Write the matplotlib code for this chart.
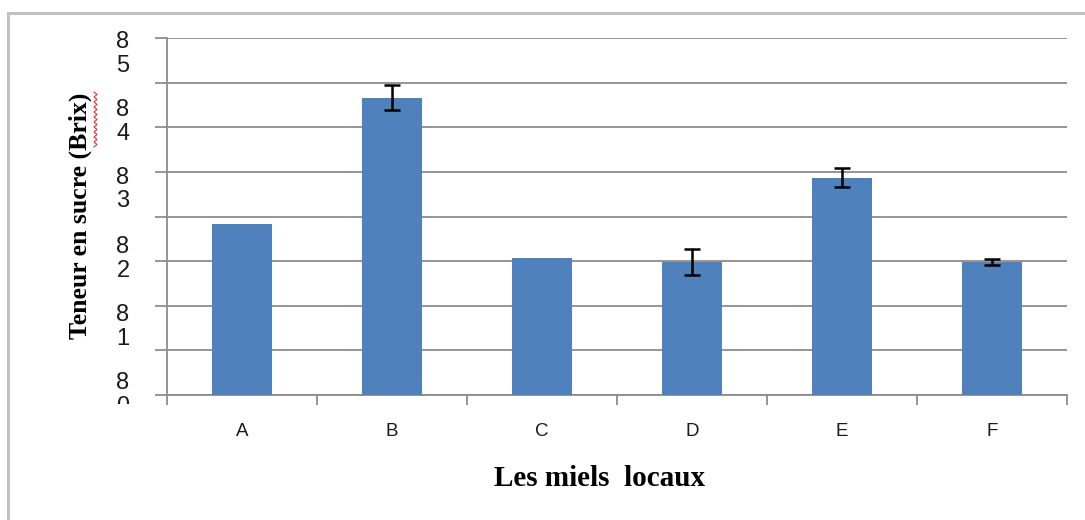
import numpy as np
import matplotlib
matplotlib.use("Agg")
import matplotlib.pyplot as plt
from matplotlib.patches import Rectangle
from matplotlib.lines import Line2D
from matplotlib.transforms import Bbox, TransformedBbox

# data
categories = ["A", "B", "C", "D", "E", "F"]
sugar = [3.83, 6.66, 3.07, 2.98, 4.87, 2.98]
sugar_err = [0.0, 0.28, 0.0, 0.29, 0.22, 0.06]

# y axis: gridlines and the (misplaced, wrapped) tick labels of the original
grid_levels = [0, 1, 2, 3, 4, 5, 6, 7, 8]
label_levels = [0.07, 1.6, 3.13, 4.68, 6.2, 7.72]
label_texts = ["8\n0", "8\n1", "8\n2", "8\n3", "8\n4", "8\n5"]

W, H = 1085, 520
fig = plt.figure(figsize=(W / 100, H / 100), dpi=100)
ax = fig.add_axes([167 / W, 1 - 395 / H, 900 / W, 357 / H])

x = np.arange(len(categories))
ax.bar(x, sugar, width=0.4, color="#4F81BD", zorder=3)
has_err = [e > 0 for e in sugar_err]
ax.errorbar(x[has_err], np.array(sugar)[has_err], yerr=np.array(sugar_err)[has_err],
            fmt="none", ecolor="black", elinewidth=1.8, capsize=6, capthick=1.8, zorder=4)

ax.set_xlim(-0.5, len(categories) - 0.5)
ax.set_ylim(0, 8)

# gridlines
ax.set_yticks(grid_levels)
ax.set_yticklabels([])
ax.grid(axis="y", color="#8c8c8c", linewidth=1.3, zorder=0)
ax.tick_params(axis="y", which="major", length=9, color="#8c8c8c", width=1.3)

ax.set_yticks(label_levels, minor=True)
ax.set_yticklabels(label_texts, minor=True, fontsize=17, family="Liberation Sans",
                   color="#1a1a1a", linespacing=1.1)
ax.tick_params(axis="y", which="minor", length=0, pad=27)

# x ticks at category boundaries, labels in the middle
ax.set_xticks(np.arange(-0.5, len(categories), 1.0))
ax.set_xticklabels([])
ax.tick_params(axis="x", which="major", length=7, color="#8c8c8c", width=1.3)
ax.set_xticks(x, minor=True)
ax.set_xticklabels(categories, minor=True, fontsize=13.5, family="Liberation Sans",
                   color="#1a1a1a")
ax.tick_params(axis="x", which="minor", length=0, pad=20)

for s in ["top", "right"]:
    ax.spines[s].set_visible(False)
for s in ["left", "bottom"]:
    ax.spines[s].set_color("#8c8c8c")
    ax.spines[s].set_linewidth(1.3)

# clip the bottom wrapped label as in the original
clip = TransformedBbox(Bbox([[0, 1 - 404 / H], [1, 1]]), fig.transFigure)
for t in ax.get_yticklabels(minor=True):
    t.set_clip_on(True)
    t.set_clip_box(clip)

fig.text(600 / W, 1 - 478 / H, "Les miels  locaux", ha="center", va="center",
         fontsize=21, fontweight="bold", family="Liberation Serif")
fig.text(80 / W, 1 - 216 / H, "Teneur en sucre (Brix)", ha="center", va="center",
         rotation=90, fontsize=18.5, fontweight="bold", family="Liberation Serif")

# spell-check squiggle under "Brix"
ys = np.arange(92, 149, 2.5)
xs = np.where(np.arange(len(ys)) % 2 == 0, 94, 97)
fig.add_artist(Line2D(xs / W, 1 - ys / H, color="#e03030", linewidth=0.8))

# chart frame
fig.add_artist(Rectangle((8 / W, -0.1), 1.2, 1.1 - 13 / H, transform=fig.transFigure,
                         fill=False, edgecolor="#c2c2c2", linewidth=2.2))

fig.savefig("out.png", dpi=100)
